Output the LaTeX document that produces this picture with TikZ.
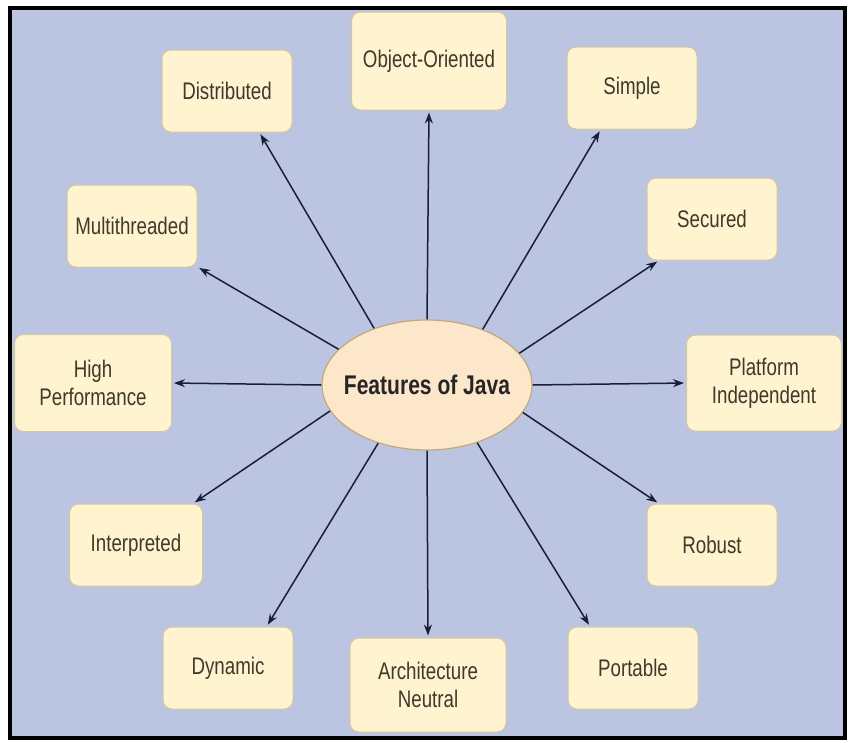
\documentclass[tikz,border=0pt]{standalone}
\usepackage{fontspec}
\setmainfont{Liberation Sans}[FakeStretch=0.78]
\usepackage{tikz}
\usetikzlibrary{shapes, arrows.meta, positioning}
\definecolor{bgblue}{RGB}{187,197,225}
\definecolor{boxfill}{RGB}{255,244,207}
\definecolor{boxline}{RGB}{214,200,158}
\definecolor{ovalfill}{RGB}{253,231,203}
\definecolor{ovalline}{RGB}{196,168,120}
\definecolor{txt}{RGB}{62,58,44}
\definecolor{arrowcol}{RGB}{24,30,56}

\begin{document}
\begin{tikzpicture}[x=1pt, y=-1pt,
    box/.style={draw=boxline, fill=boxfill, rectangle, rounded corners=9pt, line width=1pt, minimum width=130pt, minimum height=82pt, text=txt, font=\fontsize{24}{28}\selectfont, align=center, inner sep=2pt},
    oval/.style={draw=ovalline, fill=ovalfill, ellipse, line width=1.2pt, minimum width=210pt, minimum height=130pt, inner sep=0pt, font=\fontsize{27}{30}\selectfont\bfseries, text=black!85},
    arrow/.style={-{Stealth[length=11pt, width=8pt]}, line width=1.5pt, arrowcol, shorten >=2pt}
]
\useasboundingbox (0,0) rectangle (848,742);
\fill[white] (0,0) rectangle (848,742);
\draw[line width=4pt, fill=bgblue] (10,8) rectangle (845,738);

\node[oval] (java) at (427,385) {\makebox[0pt]{Features of Java}};

\node[box] (dist) at (227,91) {Distributed};
\node[box, minimum width=155pt, minimum height=98pt] (oop) at (429,61) {Object-Oriented};
\node[box] (simple) at (632,88) {Simple};
\node[box] (secured) at (712,219) {Secured};
\node[box, minimum width=155pt, minimum height=96pt] (platform) at (764,383) {Platform\\Independent};
\node[box] (robust) at (712,545) {Robust};
\node[box] (portable) at (633,668) {Portable};
\node[box, minimum width=156pt, minimum height=94pt] (arch) at (428,685) {Architecture\\Neutral};
\node[box] (dynamic) at (228,668) {Dynamic};
\node[box, minimum width=133pt] (interp) at (136,545) {Interpreted};
\node[box, minimum width=157pt, minimum height=97pt] (perf) at (93,383) {High\\Performance};
\node[box] (multi) at (132,226) {Multithreaded};

\draw[arrow] (java.133) -- (dist.-52);
\draw[arrow] (java.90) -- (oop.-90);
\draw[arrow] (java.45) -- (simple.-127);
\draw[arrow] (java.19) -- (secured.-142);
\draw[arrow] (java.0) -- (platform.180);
\draw[arrow] (java.-16) -- (robust.142);
\draw[arrow] (java.-49) -- (portable.136);
\draw[arrow] (java.-90) -- (arch.90);
\draw[arrow] (java.-130) -- (dynamic.47);
\draw[arrow] (java.-165) -- (interp.36);
\draw[arrow] (java.180) -- (perf.0);
\draw[arrow] (java.158) -- (multi.-32);
\end{tikzpicture}
\end{document}
